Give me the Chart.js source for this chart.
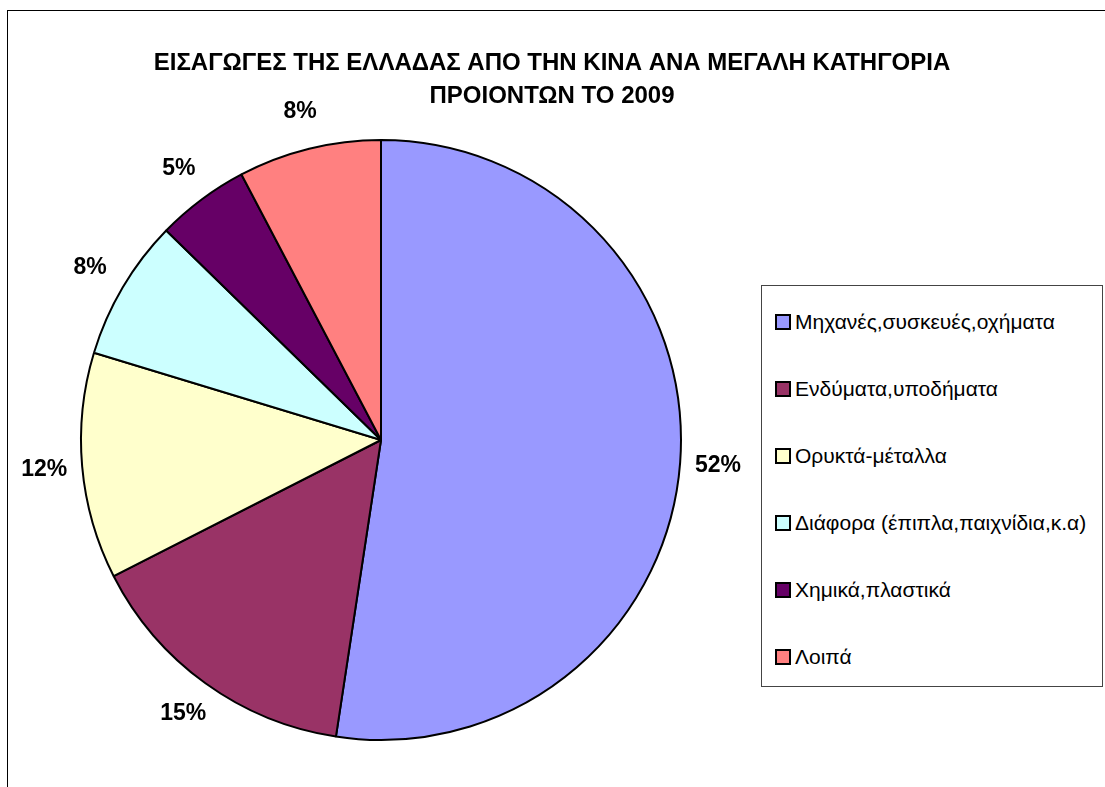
<!DOCTYPE html>
<html>
<head>
<meta charset="utf-8">
<script src="https://cdn.jsdelivr.net/npm/chart.js@4.4.0/dist/chart.umd.min.js"></script>
<style>
    body { margin: 0; background: #fff; overflow: hidden; font-family: "Liberation Sans", Arial, sans-serif; }
    #wrap { position: relative; width: 1105px; height: 787px; }
    #frame { position: absolute; left: 7px; top: 10px; width: 1200px; height: 800px; border-left: 1.5px solid #000; border-top: 1.5px solid #000; }
    #c { position: absolute; left: 0; top: 0; }
    #legend { position: absolute; left: 761px; top: 285px; width: 342px; height: 402px; border: 1px solid #444; box-sizing: border-box; background: #fff; }
    .item { position: absolute; left: 13px; font-size: 21px; color: #000; display: flex; align-items: center; white-space: nowrap; }
    .sw { width: 12px; height: 12px; border: 2px solid #000; margin-right: 4px; }
</style>
</head>
<body>
<div id="wrap">
    <div id="frame"></div>
    <canvas id="c" width="1105" height="787"></canvas>
    <div id="legend"></div>
</div>
<script>
const titleLines = ['ΕΙΣΑΓΩΓΕΣ ΤΗΣ ΕΛΛΑΔΑΣ ΑΠΟ ΤΗΝ ΚΙΝΑ ΑΝΑ ΜΕΓΑΛΗ ΚΑΤΗΓΟΡΙΑ', 'ΠΡΟΙΟΝΤΩΝ ΤΟ 2009'];
const categories = [
    'Μηχανές,συσκευές,οχήματα',
    'Ενδύματα,υποδήματα',
    'Ορυκτά-μέταλλα',
    'Διάφορα (έπιπλα,παιχνίδια,κ.α)',
    'Χημικά,πλαστικά',
    'Λοιπά'
];
const shares = [52.4, 15.1, 12.2, 7.6, 5.0, 7.7];
const sliceColors = ['#9999FF', '#993366', '#FFFFCC', '#CCFFFF', '#660066', '#FF8080'];

// title + outside percent labels
const textPlugin = {
    id: 'textPlugin',
    afterDraw(chart) {
        const ctx = chart.ctx;
        ctx.save();
        ctx.fillStyle = '#000';
        ctx.textAlign = 'center';
        ctx.textBaseline = 'middle';
        ctx.font = 'bold 24px "Liberation Sans", Arial, sans-serif';
        titleLines.forEach((t, i) => ctx.fillText(t, 552, 63 + i * 33));

        ctx.font = 'bold 23px "Liberation Sans", Arial, sans-serif';
        const total = shares.reduce((a, b) => a + b, 0);
        chart.getDatasetMeta(0).data.forEach((arc, i) => {
            const mid = (arc.startAngle + arc.endAngle) / 2;
            const r = arc.outerRadius + 38;
            const x = arc.x + Math.cos(mid) * r;
            const y = arc.y + Math.sin(mid) * r;
            ctx.fillText(Math.round(shares[i] / total * 100) + '%', x, y);
        });
        ctx.restore();
    }
};

const ctx = document.getElementById('c').getContext('2d');
new Chart(ctx, {
    type: 'pie',
    data: {
        labels: categories,
        datasets: [{
            data: shares,
            backgroundColor: sliceColors,
            borderColor: '#000',
            borderWidth: 2
        }]
    },
    options: {
        responsive: false,
        animation: false,
        radius: 300,
        layout: { padding: { left: 81, right: 424, top: 140, bottom: 47 } },
        plugins: {
            legend: { display: false },
            title: { display: false },
            tooltip: { enabled: false }
        }
    },
    plugins: [textPlugin]
});

// legend box
const legend = document.getElementById('legend');
categories.forEach((name, i) => {
    const item = document.createElement('div');
    item.className = 'item';
    item.style.top = (24 + i * 67) + 'px';
    item.innerHTML = '<span class="sw" style="background:' + sliceColors[i] + '"></span><span>' + name + '</span>';
    legend.appendChild(item);
});
</script>
</body>
</html>
